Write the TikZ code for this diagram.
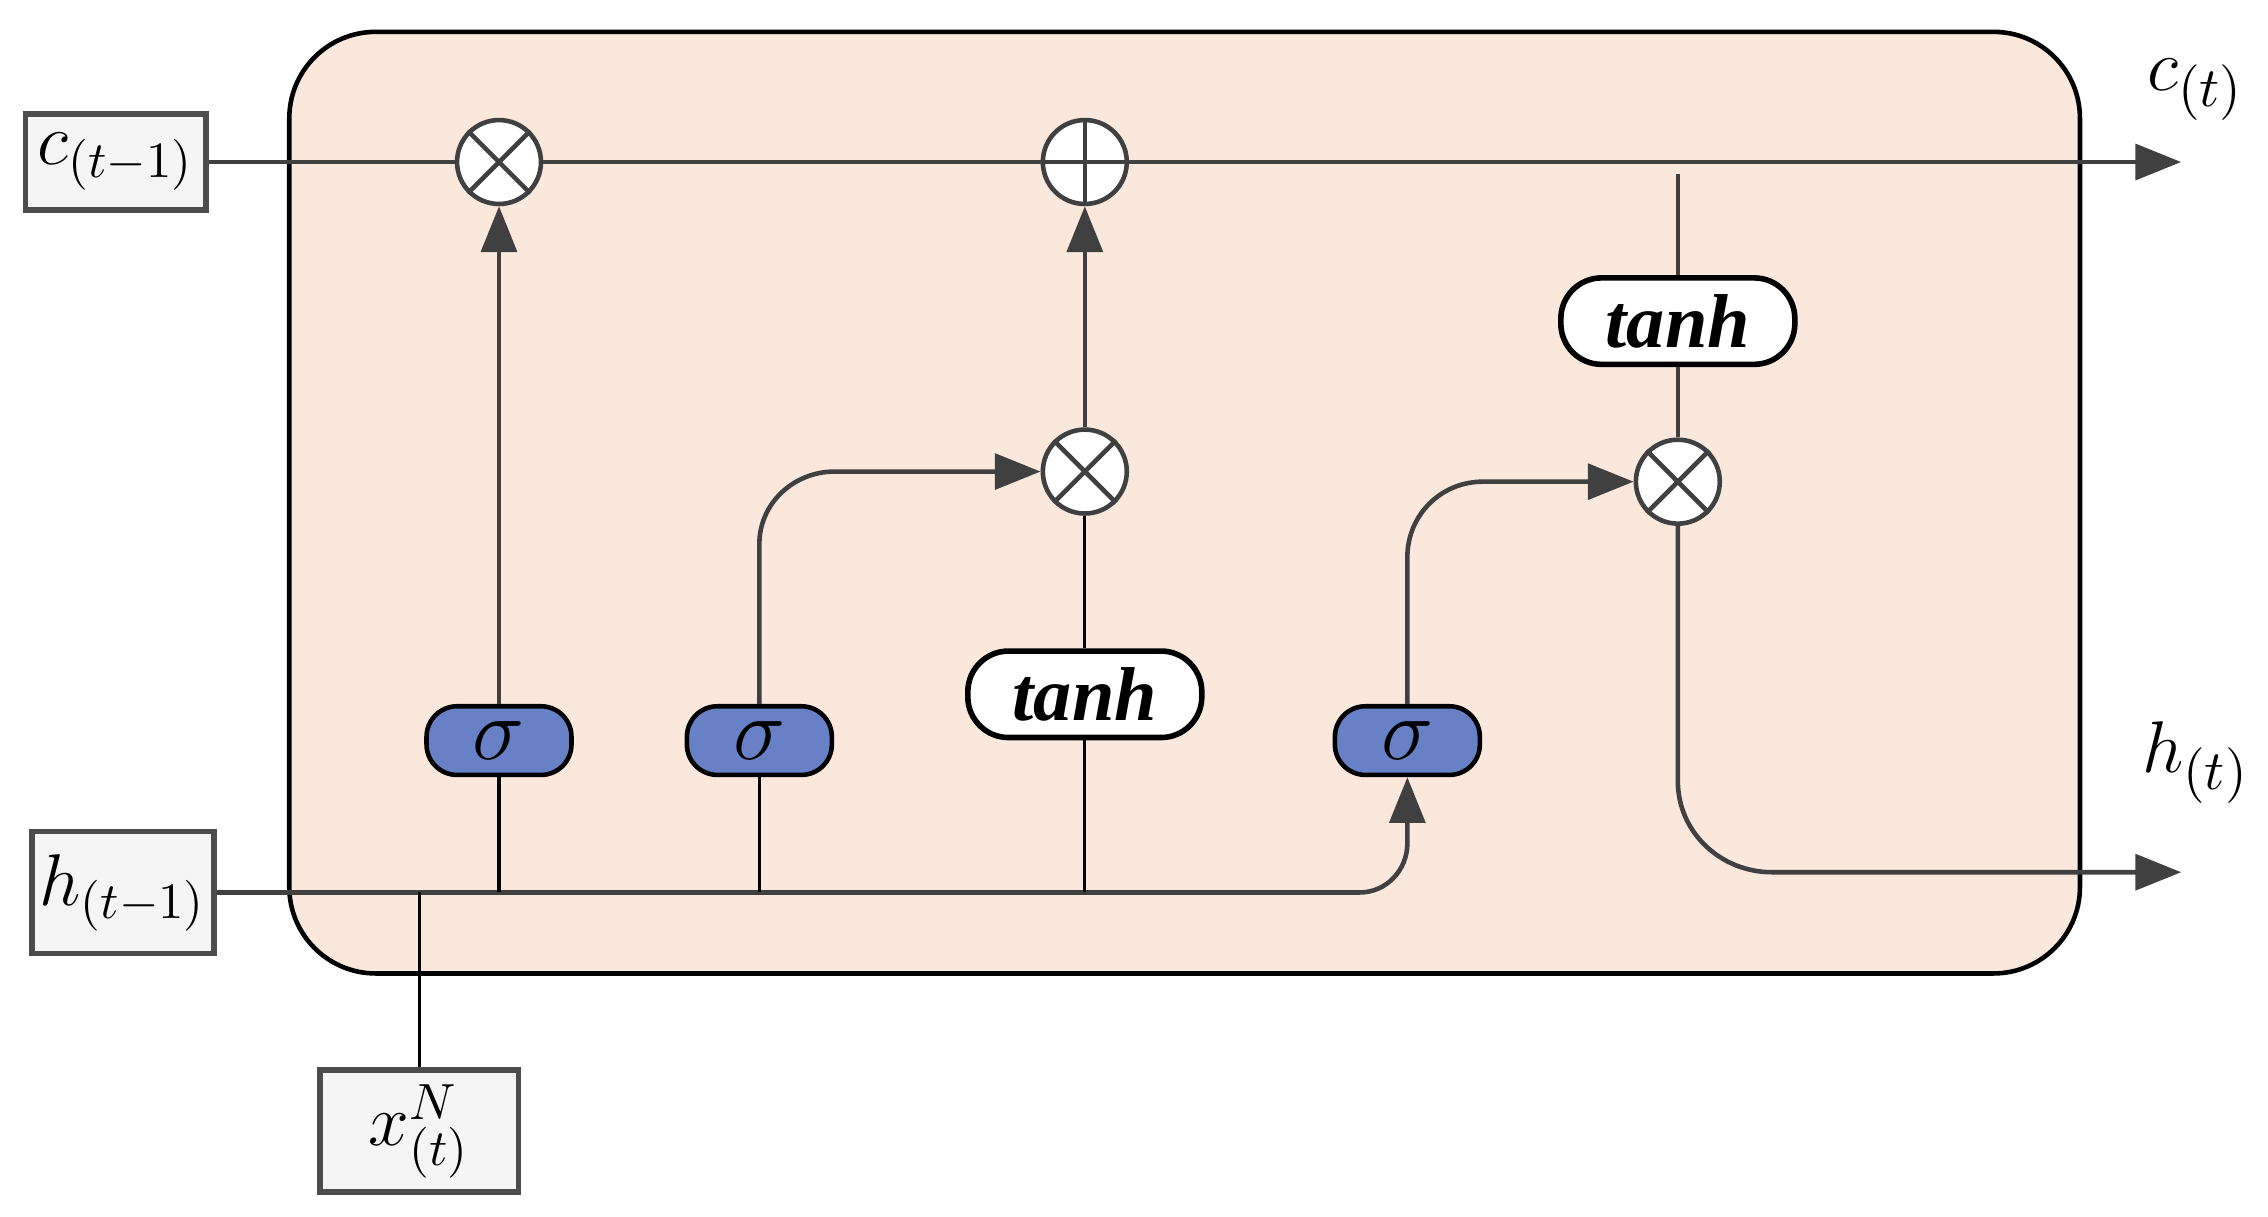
\documentclass[tikz,border=0pt]{standalone}
\usepackage{fontspec}
\setmainfont{Liberation Serif}
\usetikzlibrary{arrows.meta}
\begin{document}
\begin{tikzpicture}[x=0.01cm,y=-0.01cm,
  ln/.style={draw=black!75,line width=0.9pt},
  thin/.style={draw=black,line width=0.6pt},
  arr/.style={ln,-{Triangle[length=9pt,width=7pt]}},
  op/.style={circle,draw=black!75,line width=0.9pt,fill=white,minimum size=16.5pt,inner sep=0pt},
  sig/.style={rounded corners=6pt,draw=black,line width=0.9pt,fill={rgb,255:red,104;green,128;blue,198},minimum width=28.5pt,minimum height=13.5pt,inner sep=0pt,font=\fontsize{17}{17}\selectfont},
  th/.style={rounded corners=8pt,draw=black,line width=1.1pt,fill=white,minimum width=46pt,minimum height=17pt,inner sep=0pt,font=\fontsize{15}{15}\selectfont\bfseries\itshape},
  io/.style={draw=black!70,line width=1.1pt,fill=black!4,inner sep=0pt,font=\fontsize{14}{14}\selectfont}]
\useasboundingbox (0,0) rectangle (1568,841);
\draw[line width=0.9pt,fill={rgb,255:red,250;green,232;blue,220},rounded corners=17pt] (200,22) rectangle (1438,673);
\node[io,minimum width=35.5pt,minimum height=18.8pt] (c0) at (80,112) {$c_{(t-1)}$};
\node[io,minimum width=35.8pt,minimum height=24pt] (h0) at (85,617) {$h_{(t-1)}$};
\node[io,minimum width=39pt,minimum height=24pt] (x0) at (290,782) {$x^{N}_{(t)}$};
\node[op] (m1) at (345,112) {};
\node[op] (p1) at (750,112) {};
\node[op] (m2) at (750,326) {};
\node[op] (m3) at (1160,333) {};
\foreach \n in {m1,m2,m3}{\draw[line width=0.9pt,black!75] (\n.45)--(\n.225) (\n.135)--(\n.315);}
\draw[line width=0.9pt,black!75] (p1.north)--(p1.south) (p1.west)--(p1.east);
\node[sig] (s1) at (345,512) {$\sigma$};
\node[sig] (s2) at (525,512) {$\sigma$};
\node[sig] (s3) at (973,512) {$\sigma$};
\node[th] (t1) at (750,480) {tanh};
\node[th] (t2) at (1160,222) {tanh};
\node[font=\fontsize{15}{15}\selectfont] (ct) at (1518,62) {$c_{(t)}$};
\node[font=\fontsize{15}{15}\selectfont] (ht) at (1518,527) {$h_{(t)}$};
\coordinate (cend) at (1508,112);
\coordinate (hend) at (1508,603);
\coordinate (b0) at (290,617);
\coordinate (tap) at (1160,120);
\draw[ln] (c0.east)--(m1.west);
\draw[ln] (m1.east)--(p1.west);
\draw[arr] (p1.east)--(cend);
\draw[arr] (h0.east)--(940,617) to[out=0,in=-90] (973,583)--(s3.south);
\draw[thin] (b0)--(x0.north);
\draw[thin] (s1.south)--(345,617);
\draw[thin] (s2.south)--(525,617);
\draw[thin] (t1.south)--(750,617);
\draw[arr] (s1.north)--(m1.south);
\draw[arr] (s2.north)--(525,376) to[out=90,in=180] (577,326)--(m2.west);
\draw[arr] (s3.north)--(973,385) to[out=90,in=180] (1025,333)--(m3.west);
\draw[thin] (t1.north)--(m2.south);
\draw[arr] (m2.north)--(p1.south);
\draw[ln] (tap)--(t2.north);
\draw[ln] (t2.south)--(m3.north);
\draw[arr] (m3.south)--(1160,540) to[out=-90,in=180] (1225,603)--(hend);
\end{tikzpicture}
\end{document}
